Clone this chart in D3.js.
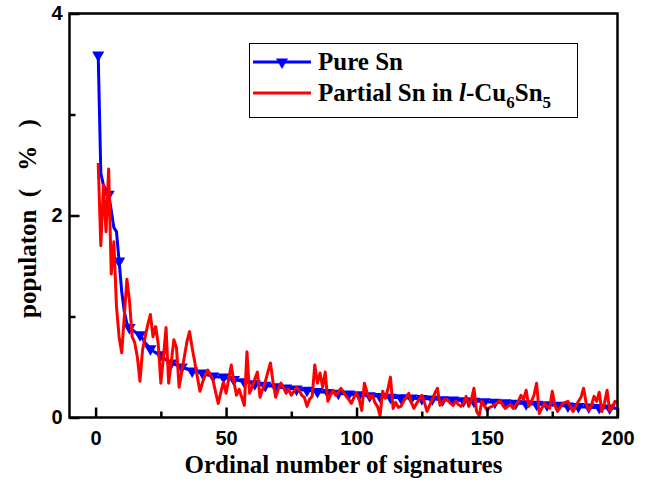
<!DOCTYPE html>
<html>
<head>
<meta charset="utf-8">
<script src="https://cdn.jsdelivr.net/npm/d3@7"></script>
<style>
  body { margin: 0; background: #fff; }
  svg { display: block; }
</style>
</head>
<body>
<div id="chart"></div>
<script>
// Pure Sn population (%) for signature ranks 1..200
const pureSn = [
  3.59, 2.42, 2.30, 2.26, 2.21, 2.05, 1.88, 1.84, 1.55, 1.25,
  1.05, 0.93, 0.89, 0.87, 0.85, 0.83, 0.82, 0.78, 0.74, 0.71,
  0.68, 0.66, 0.64, 0.63, 0.62, 0.59, 0.57, 0.55, 0.54, 0.53,
  0.52, 0.51, 0.50, 0.49, 0.48, 0.47, 0.46, 0.455, 0.45, 0.445,
  0.44, 0.43, 0.42, 0.415, 0.41, 0.405, 0.40, 0.40, 0.40, 0.39,
  0.385, 0.38, 0.375, 0.37, 0.365, 0.36, 0.355, 0.35, 0.345, 0.34,
  0.335, 0.33, 0.325, 0.32, 0.318, 0.315, 0.312, 0.31, 0.305, 0.30,
  0.298, 0.295, 0.292, 0.29, 0.287, 0.284, 0.281, 0.278, 0.275, 0.272,
  0.27, 0.267, 0.264, 0.261, 0.258, 0.255, 0.253, 0.25, 0.248, 0.246,
  0.244, 0.242, 0.24, 0.238, 0.236, 0.234, 0.232, 0.23, 0.228, 0.226,
  0.224, 0.222, 0.22, 0.218, 0.216, 0.214, 0.212, 0.21, 0.208, 0.206,
  0.204, 0.202, 0.20, 0.199, 0.198, 0.197, 0.196, 0.195, 0.194, 0.193,
  0.192, 0.19, 0.189, 0.188, 0.187, 0.186, 0.185, 0.184, 0.183, 0.182,
  0.18, 0.178, 0.176, 0.175, 0.174, 0.173, 0.172, 0.171, 0.17, 0.168,
  0.166, 0.165, 0.164, 0.163, 0.162, 0.161, 0.16, 0.158, 0.156, 0.155,
  0.154, 0.153, 0.152, 0.151, 0.15, 0.148, 0.146, 0.145, 0.144, 0.143,
  0.142, 0.141, 0.14, 0.138, 0.136, 0.135, 0.134, 0.133, 0.132, 0.13,
  0.128, 0.126, 0.125, 0.124, 0.123, 0.122, 0.12, 0.118, 0.116, 0.115,
  0.114, 0.113, 0.112, 0.11, 0.108, 0.106, 0.105, 0.104, 0.103, 0.102,
  0.10, 0.099, 0.098, 0.097, 0.096, 0.095, 0.094, 0.093, 0.092, 0.09
];

// Partial Sn in l-Cu6Sn5, same ranks
const partialSn = [
  2.52, 1.70, 2.30, 1.84, 2.46, 1.42, 1.74, 1.10, 0.80, 0.64,
  1.00, 1.37, 1.15, 0.80, 0.74, 0.60, 0.36, 0.67, 0.80, 0.92,
  1.02, 0.80, 0.90, 0.73, 0.34, 0.60, 0.89, 0.34, 0.55, 0.77,
  0.69, 0.30, 0.45, 0.60, 0.75, 0.85, 0.69, 0.55, 0.40, 0.26,
  0.35, 0.42, 0.47, 0.42, 0.37, 0.25, 0.14, 0.25, 0.35, 0.24,
  0.38, 0.52, 0.35, 0.22, 0.28, 0.20, 0.12, 0.65, 0.24, 0.30,
  0.38, 0.45, 0.20, 0.28, 0.35, 0.45, 0.54, 0.35, 0.20, 0.28,
  0.34, 0.30, 0.24, 0.28, 0.22, 0.26, 0.30, 0.27, 0.22, 0.20,
  0.11, 0.18, 0.21, 0.52, 0.34, 0.44, 0.30, 0.45, 0.16, 0.22,
  0.27, 0.22, 0.25, 0.29, 0.25, 0.21, 0.18, 0.14, 0.20, 0.24,
  0.18, 0.07, 0.34, 0.25, 0.19, 0.22, 0.15, 0.11, 0.02, 0.26,
  0.19, 0.28, 0.40, 0.09, 0.15, 0.10, 0.11, 0.16, 0.20, 0.24,
  0.15, 0.09, 0.14, 0.18, 0.22, 0.15, 0.06, 0.12, 0.18, 0.24,
  0.29, 0.12, 0.15, 0.18, 0.17, 0.14, 0.12, 0.16, 0.13, 0.11,
  0.14, 0.21, 0.11, 0.18, 0.29, 0.06, 0.02, 0.16, 0.12, 0.07,
  0.10, 0.11, 0.13, 0.15, 0.17, 0.12, 0.09, 0.11, 0.13, 0.09,
  0.12, 0.16, 0.22, 0.18, 0.27, 0.11, 0.16, 0.22, 0.34, 0.04,
  0.09, 0.14, 0.11, 0.09, 0.26, 0.12, 0.06, 0.10, 0.14, 0.15,
  0.16, 0.10, 0.06, 0.11, 0.16, 0.20, 0.29, 0.14, 0.07, 0.12,
  0.21, 0.16, 0.25, 0.06, 0.14, 0.27, 0.07, 0.10, 0.16, 0.14
];

const xMajorTicks = [0, 50, 100, 150, 200];
const xMinorTicks = [25, 75, 125, 175];
const yMajorTicks = [0, 2, 4];
const yMinorTicks = [1, 3];

const width = 649, height = 482;
const margin = {top: 13.5, right: 31.5, bottom: 64.5, left: 69.5};
const innerW = width - margin.left - margin.right;
const innerH = height - margin.top - margin.bottom;

const svg = d3.select("#chart").append("svg")
  .attr("width", width)
  .attr("height", height);

const g = svg.append("g")
  .attr("transform", `translate(${margin.left},${margin.top})`);

const x = d3.scaleLinear().domain([-10, 200]).range([0, innerW]);
const y = d3.scaleLinear().domain([0, 4]).range([innerH, 0]);

const pureData = pureSn.map((v, i) => ({n: i + 1, v}));
const partialData = partialSn.map((v, i) => ({n: i + 1, v}));

const line = d3.line().x(d => x(d.n)).y(d => y(d.v));

// clip so the frame stays clean
g.append("clipPath").attr("id", "clip")
  .append("rect").attr("width", innerW).attr("height", innerH);

const plot = g.append("g").attr("clip-path", "url(#clip)");

// blue series with down-triangle markers
plot.append("path")
  .datum(pureData)
  .attr("fill", "none")
  .attr("stroke", "#0000ff")
  .attr("stroke-width", 3)
  .attr("stroke-linejoin", "round")
  .attr("d", line);

const tri = d3.symbol().type(d3.symbolTriangle).size(64);
plot.selectAll(".mark")
  .data(pureData.filter((d, i) => i % 4 === 0))
  .join("path")
  .attr("class", "mark")
  .attr("d", tri)
  .attr("fill", "#0000ff")
  .attr("transform", d => `translate(${x(d.n)},${y(d.v)}) rotate(180)`);

// red series
plot.append("path")
  .datum(partialData)
  .attr("fill", "none")
  .attr("stroke", "#ff0000")
  .attr("stroke-width", 3)
  .attr("stroke-linejoin", "round")
  .attr("d", line);

// axes (ticks point inward)
const tickFont = "'Liberation Sans', Arial, sans-serif";

const xAxis = g.append("g")
  .attr("transform", `translate(0,${innerH})`)
  .call(d3.axisBottom(x).tickValues(xMajorTicks).tickSizeInner(-10).tickSizeOuter(0).tickPadding(13));
g.append("g")
  .attr("transform", `translate(0,${innerH})`)
  .call(d3.axisBottom(x).tickValues(xMinorTicks).tickSizeInner(-6).tickSizeOuter(0).tickFormat(""));

const yAxis = g.append("g")
  .call(d3.axisLeft(y).tickValues(yMajorTicks).tickFormat(d3.format("d"))
    .tickSizeInner(-10).tickSizeOuter(0).tickPadding(7));
g.append("g")
  .call(d3.axisLeft(y).tickValues(yMinorTicks).tickSizeInner(-6).tickSizeOuter(0).tickFormat(""));

g.selectAll(".domain").remove();
g.selectAll(".tick line").attr("stroke", "#000").attr("stroke-width", 2.5);
g.selectAll(".tick text")
  .style("font-family", tickFont)
  .style("font-weight", "bold")
  .style("font-size", "20px")
  .attr("fill", "#000");
xAxis.selectAll(".tick text").attr("dy", "0.71em");

// frame
g.append("rect")
  .attr("width", innerW)
  .attr("height", innerH)
  .attr("fill", "none")
  .attr("stroke", "#000")
  .attr("stroke-width", 2.5);

// axis titles
const titleFont = "'Liberation Serif', 'Times New Roman', serif";

svg.append("text")
  .attr("x", margin.left + innerW / 2)
  .attr("y", 473)
  .attr("text-anchor", "middle")
  .style("font-family", titleFont)
  .style("font-weight", "bold")
  .style("font-size", "25px")
  .text("Ordinal number of signatures");

const yTitle = svg.append("text")
  .attr("transform", `translate(36,${margin.top + innerH / 2}) rotate(-90)`)
  .attr("text-anchor", "middle")
  .style("font-family", titleFont)
  .style("font-weight", "bold")
  .style("font-size", "25px");
yTitle.append("tspan").text("populaton");
yTitle.append("tspan").style("letter-spacing", "6px").text(" ( % )");

// legend
const legend = svg.append("g");
legend.append("rect")
  .attr("x", 249.5).attr("y", 43.5)
  .attr("width", 328).attr("height", 74)
  .attr("fill", "#fff")
  .attr("stroke", "#000")
  .attr("stroke-width", 1);

legend.append("line")
  .attr("x1", 253).attr("x2", 311).attr("y1", 62).attr("y2", 62)
  .attr("stroke", "#0000ff").attr("stroke-width", 3);
legend.append("path")
  .attr("d", tri)
  .attr("fill", "#0000ff")
  .attr("transform", "translate(282,62) rotate(180)");
legend.append("line")
  .attr("x1", 253).attr("x2", 311).attr("y1", 93).attr("y2", 93)
  .attr("stroke", "#ff0000").attr("stroke-width", 3);

legend.append("text")
  .attr("x", 318).attr("y", 70)
  .style("font-family", titleFont)
  .style("font-weight", "bold")
  .style("font-size", "25px")
  .text("Pure Sn");

const t2 = legend.append("text")
  .attr("x", 318).attr("y", 101)
  .style("font-family", titleFont)
  .style("font-weight", "bold")
  .style("font-size", "25px");
t2.append("tspan").text("Partial Sn in ");
t2.append("tspan").style("font-style", "italic").text("l");
t2.append("tspan").text("-Cu");
t2.append("tspan").attr("dy", 7).style("font-size", "17px").text("6");
t2.append("tspan").attr("dy", -7).text("Sn");
t2.append("tspan").attr("dy", 7).style("font-size", "17px").text("5");
</script>
</body>
</html>
